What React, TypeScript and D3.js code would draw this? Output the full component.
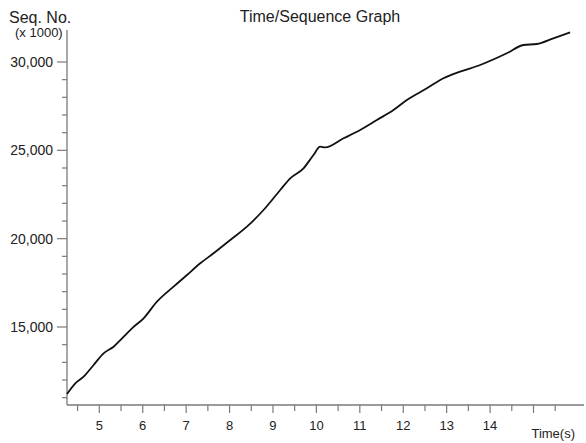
import React, { useEffect, useRef } from 'react';
import * as d3 from 'd3';

// time (s) and sequence number
const times = [
  4.256, 4.448, 4.639, 4.869, 5.099, 5.329, 5.523, 5.753, 6.02, 6.328, 6.71, 7.019,
  7.325, 7.631, 8.016, 8.4, 8.782, 9.167, 9.397, 9.703, 9.933, 10.087, 10.2, 10.624,
  11.008, 11.393, 11.775, 12.083, 12.544, 12.926, 13.31, 13.771, 14.385, 14.768,
  15.076, 15.458, 15.843,
];
const seqNos = [
  11209, 11814, 12188, 12850, 13512, 13886, 14361, 14927, 15493, 16433, 17282, 17944,
  18606, 19172, 19925, 20678, 21623, 22755, 23417, 23983, 24736, 25206, 25170, 25681,
  26151, 26717, 27283, 27849, 28511, 29077, 29451, 29830, 30492, 30962, 31019, 31341,
  31681,
];
const xTickValues = d3.range(4.5, 15.51, 0.5);
const xLabels = [5, 6, 7, 8, 9, 10, 11, 12, 13, 14];
const yTickValues = d3.range(11000, 30001, 1000);
const yLabels = [15000, 20000, 25000, 30000];

const width = 586;
const height = 443;

function App() {
  const ref = useRef(null);

  useEffect(() => {
    const svg = d3.select(ref.current);
    svg.selectAll('*').remove();

    const left = 67;
    const bottom = 405;
    const axisColor = '#7a7a7a';
    const font = '"Liberation Sans", Arial, sans-serif';

    const x = d3.scaleLinear().domain([4.256, 16.14]).range([left, 583]);
    const y = d3.scaleLinear().domain([10586, 31811]).range([bottom, 30]);

    svg
      .append('rect')
      .attr('width', width)
      .attr('height', height)
      .attr('fill', '#fff');

    // y axis
    const ya = svg.append('g');
    ya.append('line')
      .attr('x1', left).attr('x2', left)
      .attr('y1', y.range()[1]).attr('y2', bottom)
      .attr('stroke', axisColor).attr('stroke-width', 1.3);
    ya.selectAll('line.tick')
      .data(yTickValues)
      .join('line')
      .attr('class', 'tick')
      .attr('x1', (d) => (d % 5000 === 0 ? left - 10 : left - 5))
      .attr('x2', left)
      .attr('y1', (d) => y(d))
      .attr('y2', (d) => y(d))
      .attr('stroke', axisColor)
      .attr('stroke-width', 1.2);
    ya.selectAll('text')
      .data(yLabels)
      .join('text')
      .attr('x', 53)
      .attr('y', (d) => y(d))
      .attr('dy', '0.35em')
      .attr('text-anchor', 'end')
      .attr('font-family', font)
      .attr('font-size', 14)
      .attr('fill', '#222')
      .text((d) => d3.format(',')(d));

    // x axis
    const xa = svg.append('g');
    xa.append('line')
      .attr('x1', left).attr('x2', 584)
      .attr('y1', bottom).attr('y2', bottom)
      .attr('stroke', axisColor).attr('stroke-width', 1.3);
    xa.selectAll('line.tick')
      .data(xTickValues)
      .join('line')
      .attr('class', 'tick')
      .attr('x1', (d) => x(d))
      .attr('x2', (d) => x(d))
      .attr('y1', bottom)
      .attr('y2', (d) => (Number.isInteger(d) ? bottom + 8 : bottom + 6))
      .attr('stroke', axisColor)
      .attr('stroke-width', 1.2);
    xa.selectAll('text')
      .data(xLabels)
      .join('text')
      .attr('x', (d) => x(d))
      .attr('y', 430)
      .attr('text-anchor', 'middle')
      .attr('font-family', font)
      .attr('font-size', 13)
      .attr('fill', '#222')
      .text((d) => d);

    // labels
    const label = (tx, ty, s, size, anchor = 'start') =>
      svg
        .append('text')
        .attr('x', tx)
        .attr('y', ty)
        .attr('text-anchor', anchor)
        .attr('font-family', font)
        .attr('font-size', size)
        .attr('fill', '#222')
        .text(s);
    label(9, 23, 'Seq. No.', 16);
    label(15, 37, '(x 1000)', 13);
    label(320, 22, 'Time/Sequence Graph', 16, 'middle');
    label(575, 438, 'Time(s)', 13, 'end');

    // trace
    const line = d3
      .line()
      .curve(d3.curveMonotoneX)
      .x((d) => x(d[0]))
      .y((d) => y(d[1]));
    svg
      .append('path')
      .datum(times.map((t, i) => [t, seqNos[i]]))
      .attr('d', line)
      .attr('fill', 'none')
      .attr('stroke', '#111')
      .attr('stroke-width', 1.8)
      .attr('stroke-linejoin', 'round');
  }, []);

  return (
    <svg
      ref={ref}
      width={width}
      height={height}
      style={{ position: 'absolute', left: 0, top: 0 }}
    />
  );
}

export default App;
